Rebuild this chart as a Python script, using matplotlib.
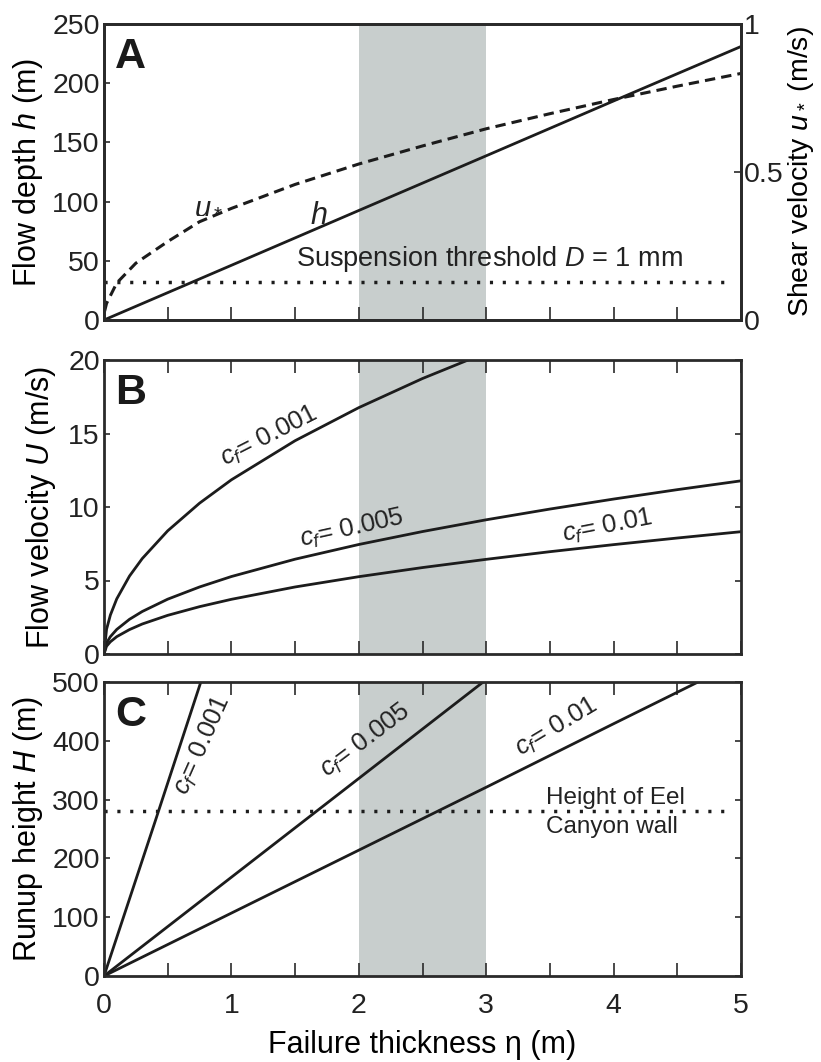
import numpy as np
import matplotlib
matplotlib.use("Agg")
import matplotlib.pyplot as plt

plt.rcParams["font.family"] = ["Liberation Sans", "DejaVu Sans"]
plt.rcParams["mathtext.fontset"] = "custom"
plt.rcParams["mathtext.rm"] = "Liberation Sans"
plt.rcParams["mathtext.it"] = "Liberation Sans:italic"
plt.rcParams["mathtext.bf"] = "Liberation Sans:bold"

# ---- data ----
# panel A: flow depth h and shear velocity u*
eta_h = [0, 1, 2, 3, 4, 5]
h_vals = [0, 46.2, 92.5, 138.7, 185, 231]
eta_u = [0.005, 0.02, 0.1, 0.25, 0.5, 0.75, 1, 1.5, 2, 2.5, 3, 3.5, 4, 4.5, 5]
ustar = [0.03, 0.056, 0.125, 0.192, 0.265, 0.332, 0.377, 0.458, 0.527,
         0.588, 0.646, 0.697, 0.745, 0.79, 0.833]
susp_threshold = 32.5   # in h units (right axis ~0.13 m/s)

# panel B: flow velocity U for three friction coefficients
eta_b = [0, 0.02, 0.05, 0.1, 0.2, 0.3, 0.5, 0.75, 1, 1.5, 2, 2.5, 3,
         3.5, 4, 4.5, 5]
U_001 = [0, 1.68, 2.65, 3.75, 5.3, 6.49, 8.38, 10.26, 11.85, 14.51, 16.76,
         18.74, 20.5, 22.2, 23.7, 25.1, 26.5]
U_005 = [0, 0.75, 1.18, 1.67, 2.36, 2.89, 3.73, 4.56, 5.27, 6.45, 7.45,
         8.33, 9.13, 9.86, 10.54, 11.18, 11.78]
U_01 = [0, 0.53, 0.83, 1.18, 1.66, 2.04, 2.63, 3.22, 3.72, 4.56, 5.26,
        5.88, 6.44, 6.96, 7.44, 7.89, 8.32]

# panel C: runup height H
eta_c001 = [0, 0.4, 0.76]
H_001 = [0, 262, 500]
eta_c005 = [0, 1, 2, 3]
H_005 = [0, 168, 336, 504]
eta_c01 = [0, 1, 2, 3, 4, 4.7]
H_01 = [0, 107, 214, 321, 429, 504]
canyon_wall = 280

shade = (2, 3)

INK = "#1c1c1c"
TXT = "#222222"
SHADE = "#c8cecd"
LW = 2.0
DOT = (0, (0.9, 2.8))
DASH = (0, (3.4, 2.0))
TICK_FS = 20.5
LAB_FS = 22
ANN_FS = 18.5

fig = plt.figure(figsize=(8.21, 10.62), dpi=100)
W = 637 / 821
L = 104 / 821
axA = fig.add_axes([L, 742 / 1062, W, 296 / 1062])
axB = fig.add_axes([L, 408 / 1062, W, 294 / 1062])
axC = fig.add_axes([L, 86 / 1062, W, 294 / 1062])

for ax in (axA, axB, axC):
    ax.axvspan(*shade, color=SHADE, lw=0, zorder=0)
    ax.set_xlim(0, 5)
    ax.set_xticks(np.arange(0, 5.01, 0.5))
    for s in ax.spines.values():
        s.set_linewidth(2.0)
        s.set_color("#2a2a2a")
    ax.tick_params(axis="x", direction="in", length=9.5, width=1.2,
                   colors="#2a2a2a", labelsize=TICK_FS, top=True, bottom=True,
                   labelbottom=False)
    ax.tick_params(axis="y", direction="in", length=4.5, width=1.2,
                   colors="#2a2a2a", labelsize=TICK_FS, right=True, pad=3)
    ax.tick_params(labelcolor=TXT)

# ---- A ----
axA.tick_params(axis="x", top=False)
axA.tick_params(axis="y", right=False)
axA.set_ylim(0, 250)
axA.set_yticks([0, 50, 100, 150, 200, 250])
axA.plot(eta_h, h_vals, color=INK, lw=LW)
axA.plot(eta_u, [u * 250 for u in ustar], color=INK, lw=2.2, ls=DASH)
axA.plot([0, 4.93], [susp_threshold] * 2, color=INK, lw=2.5, ls=DOT)
axA.text(1.51, 39, "Suspension threshold $D$ = 1 mm", fontsize=19.5,
         color=TXT, ha="left", va="bottom")
axA.text(0.71, 90, "$u_*$", fontsize=21, ha="left", va="baseline", color=TXT)
axA.text(1.62, 81, "$h$", fontsize=22, ha="left", va="baseline", color=TXT)
axA.set_ylabel("Flow depth $h$ (m)", fontsize=LAB_FS, labelpad=5)
axA2 = axA.twinx()
axA2.set_ylim(0, 1)
axA2.set_yticks([0, 0.5, 1])
axA2.set_yticklabels(["0", "0.5", "1"])
axA2.tick_params(axis="y", direction="in", length=5, width=1.2,
                 labelsize=TICK_FS, colors="#2a2a2a", labelcolor=TXT, pad=2)
axA2.set_ylabel("Shear velocity $u_*$ (m/s)", fontsize=20.5, labelpad=2)
for s in axA2.spines.values():
    s.set_linewidth(2.0)
    s.set_color("#2a2a2a")
axA.text(0.017, 0.955, "A", transform=axA.transAxes, fontsize=31,
         fontweight="bold", va="top", ha="left", color="#1a1a1a")

# ---- B ----
axB.set_ylim(0, 20)
axB.set_yticks([0, 5, 10, 15, 20])
axB.plot(eta_b, U_001, color=INK, lw=LW)
axB.plot(eta_b, U_005, color=INK, lw=LW)
axB.plot(eta_b, U_01, color=INK, lw=LW)
axB.text(1.3, 14.8, "$c_f$= 0.001", fontsize=ANN_FS, rotation=27,
         ha="center", va="center", rotation_mode="anchor", color=TXT)
axB.text(1.95, 8.5, "$c_f$= 0.005", fontsize=ANN_FS, rotation=12.5,
         ha="center", va="center", rotation_mode="anchor", color=TXT)
axB.text(3.95, 8.65, "$c_f$= 0.01", fontsize=ANN_FS, rotation=11,
         ha="center", va="center", rotation_mode="anchor", color=TXT)
axB.set_ylabel("Flow velocity $U$ (m/s)", fontsize=LAB_FS, labelpad=7)
axB.text(0.017, 0.955, "B", transform=axB.transAxes, fontsize=31,
         fontweight="bold", va="top", ha="left", color="#1a1a1a")

# ---- C ----
axC.set_ylim(0, 500)
axC.set_yticks([0, 100, 200, 300, 400, 500])
axC.plot(eta_c001, H_001, color=INK, lw=LW)
axC.plot(eta_c005, H_005, color=INK, lw=LW)
axC.plot(eta_c01, H_01, color=INK, lw=LW)
axC.plot([0, 4.93], [canyon_wall] * 2, color=INK, lw=2.5, ls=DOT)
axC.text(0.77, 392, "$c_f$= 0.001", fontsize=ANN_FS, rotation=66,
         ha="center", va="center", rotation_mode="anchor", color=TXT)
axC.text(2.05, 400, "$c_f$= 0.005", fontsize=ANN_FS, rotation=37,
         ha="center", va="center", rotation_mode="anchor", color=TXT)
axC.text(3.55, 423, "$c_f$= 0.01", fontsize=ANN_FS, rotation=31,
         ha="center", va="center", rotation_mode="anchor", color=TXT)
axC.text(3.47, 303, "Height of Eel", fontsize=17.5, ha="left", va="center",
         color=TXT)
axC.text(3.47, 254, "Canyon wall", fontsize=17.5, ha="left", va="center",
         color=TXT)
axC.tick_params(axis="x", labelbottom=True, pad=12)
axC.set_xticks([0, 1, 2, 3, 4, 5])
axC.set_xticks(np.arange(0, 5.01, 0.5), minor=True)
axC.tick_params(axis="x", which="minor", direction="in", length=9.5,
                width=1.2, top=True, bottom=True, colors="#2a2a2a")
axC.set_xlabel("Failure thickness η (m)", fontsize=LAB_FS, labelpad=8)
axC.set_ylabel("Runup height $H$ (m)", fontsize=LAB_FS, labelpad=5)
axC.text(0.017, 0.955, "C", transform=axC.transAxes, fontsize=31,
         fontweight="bold", va="top", ha="left", color="#1a1a1a")

fig.savefig("out.png", dpi=100)
